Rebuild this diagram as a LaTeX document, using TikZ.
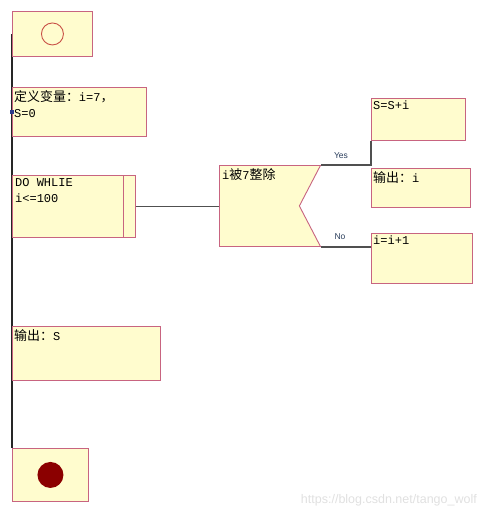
\documentclass[tikz,border=0pt]{standalone}
\usepackage{fontspec}
\setmainfont{Liberation Mono}
\newfontfamily\cjk[Scale=1.08]{Noto Sans CJK SC}
\newfontfamily\labfont{Liberation Sans}
\usepackage{tikz}
\usetikzlibrary{positioning}
\usetikzlibrary{shapes.symbols,calc}
\definecolor{boxfill}{RGB}{255,252,206}
\definecolor{boxline}{RGB}{200,100,128}
\definecolor{flowline}{RGB}{80,80,80}
\definecolor{ringred}{RGB}{200,80,70}
\definecolor{stopred}{RGB}{139,0,0}
\definecolor{tagblue}{RGB}{40,60,90}
\definecolor{grip}{RGB}{45,60,140}

\begin{document}
\begin{tikzpicture}[x=1pt, y=-1pt,
  box/.style={draw=boxline, fill=boxfill, rectangle, line width=0.9pt, inner sep=0pt, anchor=north west},
  txt/.style={anchor=north west, inner sep=0pt, align=left, font=\fontsize{12}{16}\selectfont},
  flow/.style={draw=flowline, line width=1.4pt},
  tag/.style={font=\labfont\fontsize{8.5}{10}\selectfont, text=tagblue, inner sep=1pt}]
  \useasboundingbox (0,0) rectangle (486,520);

  % Main line
  \coordinate (top) at (12,33.5);
  \coordinate (bottom) at (12,448);
  \draw [flow, draw=black!85, line width=1.3pt] (top) -- (bottom);

  % Nodes
  \node [box, minimum width=80, minimum height=45] (start) at (12,11) {};
  \node [box, minimum width=134, minimum height=49] (init) at (12,87) {};
  \node [box, minimum width=123, minimum height=62] (loop) at (12,175) {};
  \node [box, shape=signal, signal from=east, signal to=nowhere, signal pointer angle=125,
         minimum width=101, minimum height=81] (dec) at (219,165) {};
  \node [box, minimum width=94, minimum height=42] (sum) at (371,98) {};
  \node [box, minimum width=99, minimum height=39] (outi) at (371,168) {};
  \node [box, minimum width=101, minimum height=50] (inc) at (371,233) {};
  \node [box, minimum width=148, minimum height=54] (outs) at (12,326) {};
  \node [box, minimum width=76, minimum height=53] (stop) at (12,448) {};

  % Texts
  \node [txt] (initt) at ([shift={(2,3)}]init.north west) {{\cjk 定义变量：}i=7{\cjk ，}\\S=0};
  \node [txt] (loopt) at ([shift={(3,3)}]loop.north west) {DO WHLIE\\i<=100};
  \node [txt] (dect) at ([shift={(3,3)}]dec.north west) {i{\cjk 被}7{\cjk 整除}};
  \node [txt] (sumt) at ([shift={(2,3)}]sum.north west) {S=S+i};
  \node [txt] (outit) at ([shift={(2,3)}]outi.north west) {{\cjk 输出：}i};
  \node [txt] (inct) at ([shift={(2,3)}]inc.north west) {i=i+1};
  \node [txt] (outst) at ([shift={(2,3)}]outs.north west) {{\cjk 输出：}S};

  % Circles
  \draw [ringred, line width=0.9pt] (start) circle (11);
  \fill [stopred] (stop) circle (13);
  \draw [boxline, line width=0.9pt] ([xshift=-12]loop.north east) -- ([xshift=-12]loop.south east);
  \node [fill=grip, minimum size=4, inner sep=0pt] (handle) at (init.west) {};

  % Arrows
  \draw [flow] (loop.east) -- (loop.east -| dec.west);
  \draw [flow] (dec.north east) -- (dec.north east -| sum.south west) -- (sum.south west);
  \draw [flow] (dec.south east) -- (dec.south east -| inc.west);
  \node [tag] (yes) at (341,156) {Yes};
  \node [tag] (no) at (340,237) {No};

  % Watermark
  \node [font=\labfont\fontsize{12.5}{14}\selectfont, text=black!12, anchor=east, inner sep=0pt] (mark) at (477,500) {https://blog.csdn.net/tango\_wolf};
\end{tikzpicture}
\end{document}
